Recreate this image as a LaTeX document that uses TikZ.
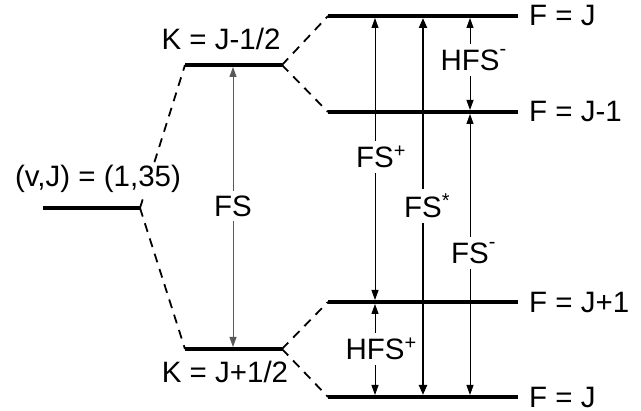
\documentclass[tikz,border=0pt]{standalone}
\usepackage{fontspec}
\setmainfont{Liberation Sans}
\usetikzlibrary{arrows.meta}
\newcommand\mysup[2][0.33em]{\rlap{\raisebox{#1}{\fontsize{20}{20}\selectfont #2}}}
\begin{document}
\begin{tikzpicture}[x=1pt,y=-1pt,
  level/.style={line width=4pt},
  conn/.style={line width=1.8pt, dash pattern=on 9pt off 7pt},
  tr/.style={line width=1pt, shorten <=2pt, shorten >=2pt,
    {Triangle[width=7pt,length=10pt]}-{Triangle[width=7pt,length=10pt]}},
  trthick/.style={tr, line width=2.2pt,
    {Triangle[width=8pt,length=10pt]}-{Triangle[width=8pt,length=10pt]}},
  trgray/.style={tr, draw=black!65, fill=black!65},
  lbl/.style={font=\fontsize{29.5}{31}\selectfont, inner sep=0pt},
  gaplbl/.style={lbl, fill=white, inner xsep=1pt, inner ysep=5pt}]
\useasboundingbox (0,0) rectangle (641,411);
% level end points
\coordinate (v0) at (43,208);  \coordinate (v1) at (140,208);
\coordinate (ka0) at (185,65); \coordinate (ka1) at (282,65);
\coordinate (kb0) at (185,349);\coordinate (kb1) at (282,349);
\coordinate (fa0) at (328,16); \coordinate (fa1) at (518,16);
\coordinate (fb0) at (328,112);\coordinate (fb1) at (518,112);
\coordinate (fc0) at (328,302);\coordinate (fc1) at (518,302);
\coordinate (fd0) at (328,397);\coordinate (fd1) at (518,397);
% transition end points
\coordinate (fsT) at (233,65);  \coordinate (fsB) at (233,349);
\coordinate (fspT) at (375,16); \coordinate (fspB) at (375,302);
\coordinate (hfpT) at (375,302);\coordinate (hfpB) at (375,397);
\coordinate (fssT) at (423,16); \coordinate (fssB) at (423,397);
\coordinate (hfmT) at (470,16); \coordinate (hfmB) at (470,112);
\coordinate (fsmT) at (470,112);\coordinate (fsmB) at (470,397);
% dashed correlations
\draw[conn] (v1) -- (ka0);
\draw[conn] (v1) -- (kb0);
\draw[conn] (ka1) -- (fa0);
\draw[conn] (ka1) -- (fb0);
\draw[conn] (kb1) -- (fc0);
\draw[conn] (kb1) -- (fd0);
% transitions
\draw[trgray] (fsT) -- (fsB);
\draw[tr] (fspT) -- (fspB);
\draw[tr] (hfpT) -- (hfpB);
\draw[trthick] (fssT) -- (fssB);
\draw[tr] (hfmT) -- (hfmB);
\draw[tr] (fsmT) -- (fsmB);
% levels
\draw[level] (v0) -- (v1);
\draw[level] (ka0) -- (ka1);
\draw[level] (kb0) -- (kb1);
\draw[level] (fa0) -- (fa1);
\draw[level] (fb0) -- (fb1);
\draw[level] (fc0) -- (fc1);
\draw[level] (fd0) -- (fd1);
% transition labels
\node[gaplbl] (lfs) at (233,206) {FS};
\node[gaplbl] (lfsp) at (375,157) {FS\mysup{+}};
\node[gaplbl] (lhfp) at (375,349) {HFS\mysup{+}};
\node[gaplbl] (lfss) at (423,206) {FS\mysup{*}};
\node[gaplbl] (lhfm) at (470,60) {HFS\mysup[0.5em]{-}};
\node[gaplbl] (lfsm) at (470,253) {FS\mysup[0.5em]{-}};
% level labels
\node[lbl, fill=white, inner sep=1pt] (lv) at (98,179) {(v,J) = (1,35)};
\node[lbl] (lka) at (221,39) {K = J-1/2};
\node[lbl] (lkb) at (225,372) {K = J+1/2};
\node[lbl, anchor=west] (lfa) at (529,16) {F = J};
\node[lbl, anchor=west] (lfb) at (529,112) {F = J-1};
\node[lbl, anchor=west] (lfc) at (529,302) {F = J+1};
\node[lbl, anchor=west] (lfd) at (529,397) {F = J};
\end{tikzpicture}
\end{document}
